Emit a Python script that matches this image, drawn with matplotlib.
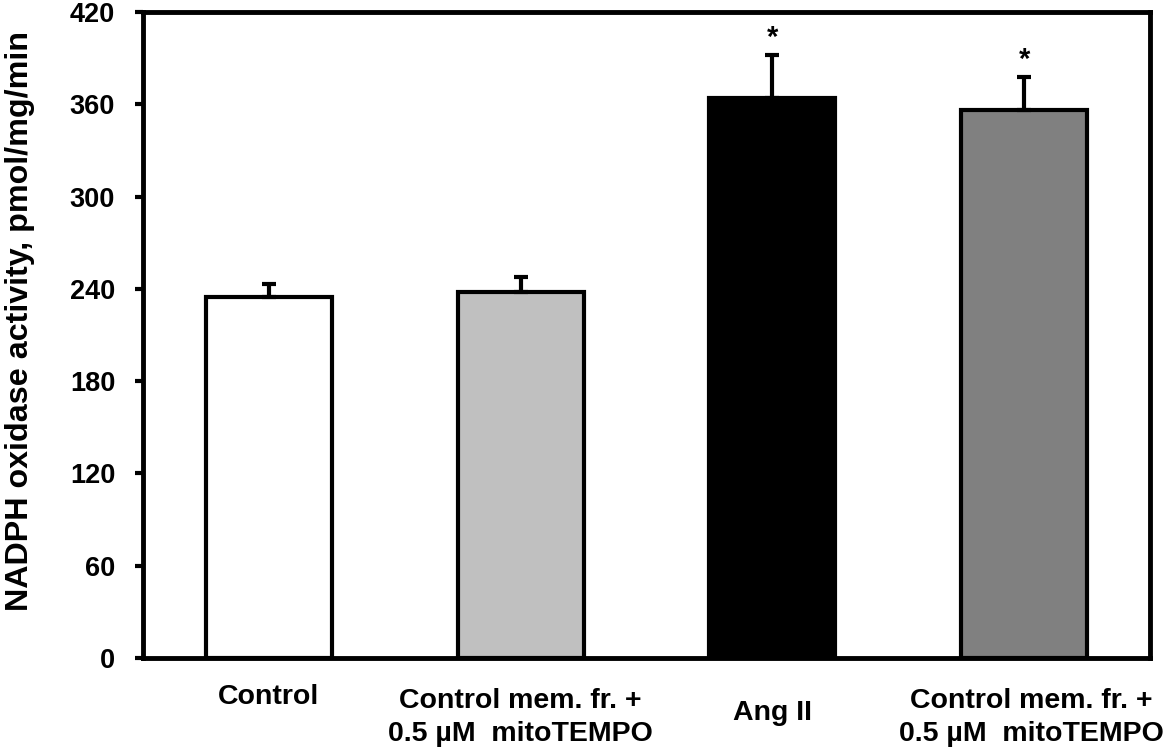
import matplotlib
matplotlib.use("Agg")
import matplotlib.pyplot as plt
import matplotlib.transforms as mtransforms

# NADPH oxidase activity per group, mean and upper SEM
groups = ["Control", "Control mem. fr. +\n0.5 \u00b5M  mitoTEMPO", "Ang II",
          "Control mem. fr. +\n0.5 \u00b5M  mitoTEMPO"]
activity = [235, 238, 364, 356]
sem = [8, 10, 28, 22]
significant = [False, False, True, True]
bar_colors = ["white", "#c0c0c0", "black", "#808080"]
yticks = [0, 60, 120, 180, 240, 300, 360, 420]

plt.rcParams["font.family"] = ["Liberation Sans", "DejaVu Sans"]
plt.rcParams["font.weight"] = "bold"


def draw_chart():
    fig = plt.figure(figsize=(11.65, 7.49), dpi=100)
    ax = fig.add_axes([0.1227, 0.1215, 0.8644, 0.8625])

    x = list(range(len(groups)))
    ax.bar(x, activity, width=0.5, color=bar_colors, edgecolor="black",
           linewidth=3, zorder=2)
    ax.errorbar(x, activity, yerr=[[0] * len(sem), sem], fmt="none",
                ecolor="black", elinewidth=3, capsize=5, capthick=3, zorder=3)

    for xi, v, e, s in zip(x, activity, sem, significant):
        if s:
            ax.annotate("*", (xi, v + e), xytext=(0, 2), textcoords="offset points",
                        ha="center", va="bottom", fontsize=21, fontweight="bold")

    ax.set_xlim(-0.5, len(groups) - 0.5)
    ax.set_ylim(0, 420)
    ax.set_yticks(yticks)
    ax.tick_params(axis="y", direction="out", length=6, width=3,
                   labelsize=19.5, pad=14)
    ax.set_xticks([])
    for sp in ax.spines.values():
        sp.set_linewidth(3.5)

    # category labels below the axis
    trans = mtransforms.blended_transform_factory(ax.transData, ax.transAxes)
    label_y = [-0.060, -0.092, -0.085, -0.092]
    label_dx = [0, 0, 0, 0.03]
    for xi, g, ly, dx in zip(x, groups, label_y, label_dx):
        ax.text(xi + dx, ly, g, transform=trans, ha="center", va="center",
                fontsize=20.5, fontweight="bold", linespacing=1.35)

    ax.set_ylabel("NADPH oxidase activity, pmol/mg/min", fontsize=23.2,
                  fontweight="bold")
    ax.yaxis.set_label_coords(-0.107, 0.522)
    fig.savefig("out.png", dpi=100)
    plt.close(fig)


if __name__ == "__main__":
    draw_chart()
